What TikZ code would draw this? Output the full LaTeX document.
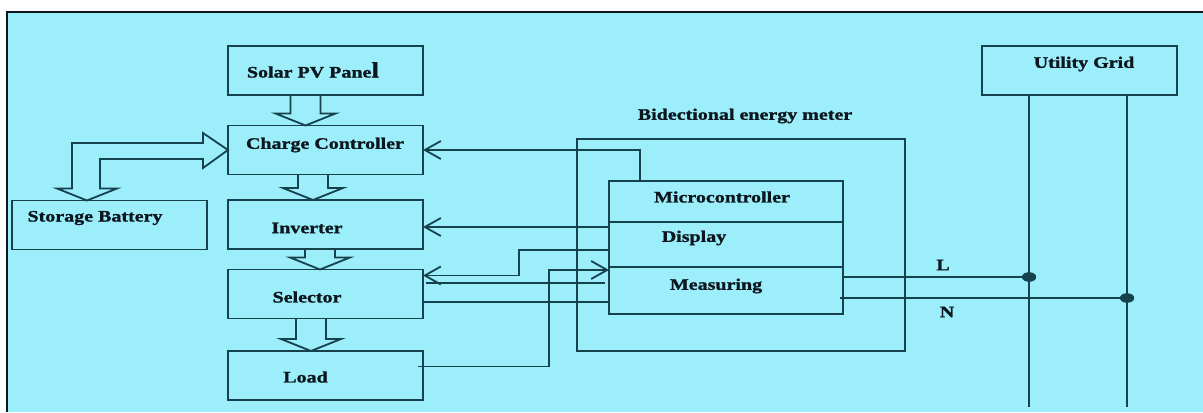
\documentclass[tikz,border=0pt]{standalone}
\usepackage{fontspec}
\setmainfont{Liberation Serif}[FakeStretch=1.25, BoldFeatures={FakeBold=1.2}]
\usetikzlibrary{calc,arrows.meta}
\definecolor{bgcyan}{RGB}{155,238,250}
\definecolor{wirec}{RGB}{22,66,78}
\definecolor{inkc}{RGB}{12,22,30}
\tikzset{
  box/.style={draw=wirec, line width=0.9pt, minimum width=97.5pt, minimum height=24.5pt, inner sep=0pt, outer sep=0pt},
  txt/.style={font=\fontsize{8}{9}\selectfont\bfseries, text=inkc, inner sep=1pt},
  wire/.style={draw=wirec, line width=0.9pt},
  sig/.style={wire, -{Straight Barb[length=8pt,width=9pt]}},
}
% hollow block arrow: from, to, x offset
\newcommand{\blockdown}[3]{%
  \draw[wire] ($(#1.south)+(#3-15,0)$) -- ($(#2.north)+(#3-15,-12)$) -- ($(#2.north)+(#3-30,-12)$)
    -- ($(#2.north)+(#3,0)$) -- ($(#2.north)+(#3+30,-12)$) -- ($(#2.north)+(#3+15,-12)$) -- ($(#1.south)+(#3+15,0)$);
}
\begin{document}
\begin{tikzpicture}[x=0.5pt, y=-0.5pt]
  \useasboundingbox (0,0) rectangle (1203,412);
  % frame
  \fill[white] (0,0) rectangle (1203,412);
  \fill[bgcyan] (7,12) rectangle (1203,412);
  \draw[inkc, line width=1.2pt] (1203,12) -- (7,12) -- (7,412);

  % PV side
  \node[box] (sol) at (325.5,70.5) {};
  \node[box] (cc) at (325.5,150) {};
  \node[box] (bat) at (109.5,225) {};
  \node[box] (inv) at (325.5,224.5) {};
  \node[box] (sel) at (325.5,294) {};
  \node[box] (load) at (325.5,375.5) {};
  \node[txt] (solt) at (313,70) {Solar PV Pane{\fontsize{11}{11}\selectfont l}};
  \node[txt] (cct) at (325,145) {Charge Controller};
  \node[txt] (batt) at (95,218) {Storage Battery};
  \node[txt] (invt) at (307,228) {Inverter};
  \node[txt] (selt) at (307,297) {Selector};
  \node[txt] (loadt) at (305.5,377) {Load};

  \blockdown{sol}{cc}{-20}
  \blockdown{cc}{inv}{-12.5}
  \blockdown{inv}{sel}{-5.5}
  \blockdown{sel}{load}{-14.5}

  % battery <-> charge controller
  \coordinate (bt) at ($(bat.north)+(-22.5,0)$);
  \coordinate (bc) at (bt |- cc.west);
  \draw[wire] ($(bt)+(-15,-12)$) -- ($(bc)+(-15,-7)$) -- ($(cc.west)+(-25,-7)$) -- ($(cc.west)+(-25,-17)$)
    -- (cc.west) -- ($(cc.west)+(-25,18)$) -- ($(cc.west)+(-25,9)$) -- ($(bc)+(13,9)$)
    -- ($(bt)+(13,-12)$) -- ($(bt)+(30,-12)$) -- (bt) -- ($(bt)+(-30,-12)$) -- cycle;

  % energy meter
  \node[box, minimum width=164pt, minimum height=106pt] (meter) at (741,245) {};
  \node[box, minimum width=117pt, minimum height=20.5pt] (mc) at (726,201.5) {};
  \node[box, minimum width=117pt, minimum height=22.5pt] (disp) at (726,244.5) {};
  \node[box, minimum width=117pt, minimum height=23.5pt] (meas) at (726,290.5) {};
  \node[txt] (metert) at (745,116) {Bidectional energy meter};
  \node[txt] (mct) at (722,197) {Microcontroller};
  \node[txt] (dispt) at (694,238) {Display};
  \node[txt] (meast) at (716,286) {Measuring};

  % utility grid
  \node[box] (grid) at (1079.5,70.5) {};
  \node[txt] (gridt) at (1084,64) {Utility Grid};
  \coordinate (lfoot) at (1029,407);
  \coordinate (nfoot) at (1127,407);
  \draw[wire] (grid.south -| lfoot) -- (lfoot);
  \draw[wire] (grid.south -| nfoot) -- (nfoot);

  % signals
  \draw[sig] ($(mc.north west)+(31,0)$) |- (cc.east);
  \coordinate (d1) at ($(disp.north west)+(0,5)$);
  \draw[sig] (d1) -- (d1 -| inv.east);
  \coordinate (d2) at ($(disp.west)+(0,5.5)$);
  \coordinate (j1) at ($(d2)+(-90,0)$);
  \draw[sig] (d2) -- (j1) |- ($(sel.north east)+(0,6)$);
  \coordinate (s3) at ($(sel.east)+(3,-11)$);
  \draw[wire] (s3) -- ($(s3 -| meas.west)+(-4,0)$);
  \coordinate (s4) at ($(sel.east)+(0,8)$);
  \draw[wire] (s4) -- (s4 -| meas.west);
  \coordinate (l1) at ($(load.east)+(-5,-9)$);
  \coordinate (j2) at ($(meas.north west)+(-60,3)$);
  \draw[sig] (l1) -| (j2) -- (j2 -| meas.west);

  % L and N
  \coordinate (lp) at ($(meas.east)+(0,-13.5)$);
  \coordinate (np) at ($(meas.east)+(-3,7.5)$);
  \draw[wire] (lp) -- (lp -| lfoot);
  \draw[wire] (np) -- (np -| nfoot);
  \fill[wirec] (lp -| lfoot) ellipse [x radius=3.6pt, y radius=2.4pt];
  \fill[wirec] (np -| nfoot) ellipse [x radius=3.6pt, y radius=2.4pt];
  \node[txt] (lt) at (943,265) {L};
  \node[txt] (nt) at (947,312) {N};
\end{tikzpicture}
\end{document}
